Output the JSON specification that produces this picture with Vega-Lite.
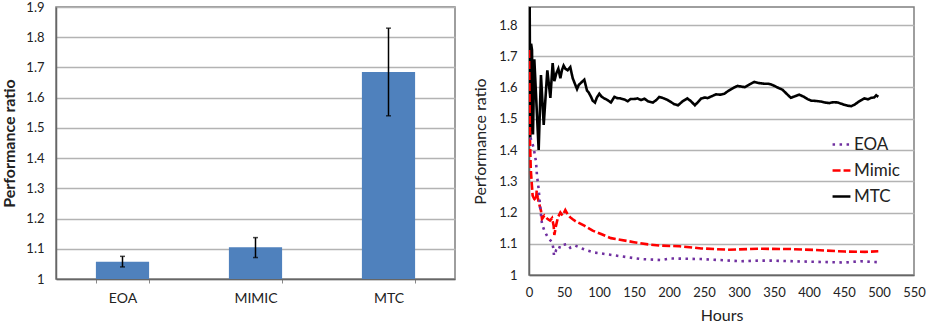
{
  "$schema": "https://vega.github.io/schema/vega-lite/v6.json",
  "background": "white",
  "padding": {"left": 1, "top": 0, "right": 5, "bottom": 5},
  "spacing": 16,
  "config": {
    "font": "Lato",
    "view": {"stroke": "#7f7f7f", "strokeWidth": 1.5},
    "axis": {"labelFont": "Lato", "titleFont": "Lato", "labelColor": "#222", "titleColor": "#222", "gridColor": "#b3b3b3", "gridWidth": 1.5, "labelOverlap": false}
  },
  "datasets": {
    "bars": [
      {"method": "EOA", "ratio": 1.057, "lo": 1.040, "hi": 1.075},
      {"method": "MIMIC", "ratio": 1.105, "lo": 1.071, "hi": 1.137},
      {"method": "MTC", "ratio": 1.685, "lo": 1.540, "hi": 1.830}
    ],
    "series": [
      {"Hours": 0, "v": 1.44, "series": "MTC"},
      {"Hours": 0.8, "v": 1.95, "series": "MTC"},
      {"Hours": 1.8, "v": 1.44, "series": "MTC"},
      {"Hours": 3, "v": 1.74, "series": "MTC"},
      {"Hours": 4.3, "v": 1.72, "series": "MTC"},
      {"Hours": 5.7, "v": 1.45, "series": "MTC"},
      {"Hours": 7.6, "v": 1.69, "series": "MTC"},
      {"Hours": 13.8, "v": 1.40, "series": "MTC"},
      {"Hours": 17.1, "v": 1.64, "series": "MTC"},
      {"Hours": 21, "v": 1.48, "series": "MTC"},
      {"Hours": 26.2, "v": 1.655, "series": "MTC"},
      {"Hours": 30.5, "v": 1.567, "series": "MTC"},
      {"Hours": 33.8, "v": 1.678, "series": "MTC"},
      {"Hours": 36.2, "v": 1.62, "series": "MTC"},
      {"Hours": 39, "v": 1.645, "series": "MTC"},
      {"Hours": 41.9, "v": 1.66, "series": "MTC"},
      {"Hours": 44.8, "v": 1.63, "series": "MTC"},
      {"Hours": 47, "v": 1.655, "series": "MTC"},
      {"Hours": 49.5, "v": 1.67, "series": "MTC"},
      {"Hours": 52, "v": 1.66, "series": "MTC"},
      {"Hours": 55.2, "v": 1.655, "series": "MTC"},
      {"Hours": 59, "v": 1.665, "series": "MTC"},
      {"Hours": 62.4, "v": 1.63, "series": "MTC"},
      {"Hours": 65, "v": 1.615, "series": "MTC"},
      {"Hours": 68.6, "v": 1.595, "series": "MTC"},
      {"Hours": 71, "v": 1.608, "series": "MTC"},
      {"Hours": 74.3, "v": 1.615, "series": "MTC"},
      {"Hours": 79, "v": 1.625, "series": "MTC"},
      {"Hours": 82.9, "v": 1.59, "series": "MTC"},
      {"Hours": 85, "v": 1.585, "series": "MTC"},
      {"Hours": 88.6, "v": 1.57, "series": "MTC"},
      {"Hours": 91, "v": 1.558, "series": "MTC"},
      {"Hours": 94.3, "v": 1.552, "series": "MTC"},
      {"Hours": 97, "v": 1.568, "series": "MTC"},
      {"Hours": 100.5, "v": 1.58, "series": "MTC"},
      {"Hours": 104, "v": 1.57, "series": "MTC"},
      {"Hours": 107.6, "v": 1.565, "series": "MTC"},
      {"Hours": 112, "v": 1.56, "series": "MTC"},
      {"Hours": 117, "v": 1.552, "series": "MTC"},
      {"Hours": 122, "v": 1.57, "series": "MTC"},
      {"Hours": 126, "v": 1.566, "series": "MTC"},
      {"Hours": 131, "v": 1.565, "series": "MTC"},
      {"Hours": 136, "v": 1.562, "series": "MTC"},
      {"Hours": 141, "v": 1.556, "series": "MTC"},
      {"Hours": 145, "v": 1.563, "series": "MTC"},
      {"Hours": 150, "v": 1.563, "series": "MTC"},
      {"Hours": 155, "v": 1.565, "series": "MTC"},
      {"Hours": 160, "v": 1.56, "series": "MTC"},
      {"Hours": 165, "v": 1.564, "series": "MTC"},
      {"Hours": 170, "v": 1.556, "series": "MTC"},
      {"Hours": 177, "v": 1.552, "series": "MTC"},
      {"Hours": 182, "v": 1.56, "series": "MTC"},
      {"Hours": 186, "v": 1.57, "series": "MTC"},
      {"Hours": 193, "v": 1.565, "series": "MTC"},
      {"Hours": 198, "v": 1.56, "series": "MTC"},
      {"Hours": 203, "v": 1.553, "series": "MTC"},
      {"Hours": 208, "v": 1.546, "series": "MTC"},
      {"Hours": 213, "v": 1.543, "series": "MTC"},
      {"Hours": 219, "v": 1.555, "series": "MTC"},
      {"Hours": 226, "v": 1.565, "series": "MTC"},
      {"Hours": 231, "v": 1.557, "series": "MTC"},
      {"Hours": 237, "v": 1.543, "series": "MTC"},
      {"Hours": 242, "v": 1.555, "series": "MTC"},
      {"Hours": 246, "v": 1.565, "series": "MTC"},
      {"Hours": 251, "v": 1.568, "series": "MTC"},
      {"Hours": 255, "v": 1.566, "series": "MTC"},
      {"Hours": 261, "v": 1.572, "series": "MTC"},
      {"Hours": 267, "v": 1.578, "series": "MTC"},
      {"Hours": 273, "v": 1.577, "series": "MTC"},
      {"Hours": 279, "v": 1.58, "series": "MTC"},
      {"Hours": 284, "v": 1.588, "series": "MTC"},
      {"Hours": 289, "v": 1.595, "series": "MTC"},
      {"Hours": 293, "v": 1.6, "series": "MTC"},
      {"Hours": 298, "v": 1.605, "series": "MTC"},
      {"Hours": 303, "v": 1.603, "series": "MTC"},
      {"Hours": 308, "v": 1.601, "series": "MTC"},
      {"Hours": 315, "v": 1.61, "series": "MTC"},
      {"Hours": 322, "v": 1.618, "series": "MTC"},
      {"Hours": 329, "v": 1.614, "series": "MTC"},
      {"Hours": 336, "v": 1.612, "series": "MTC"},
      {"Hours": 342, "v": 1.612, "series": "MTC"},
      {"Hours": 348, "v": 1.608, "series": "MTC"},
      {"Hours": 355, "v": 1.60, "series": "MTC"},
      {"Hours": 362, "v": 1.593, "series": "MTC"},
      {"Hours": 368, "v": 1.58, "series": "MTC"},
      {"Hours": 374, "v": 1.567, "series": "MTC"},
      {"Hours": 380, "v": 1.572, "series": "MTC"},
      {"Hours": 386, "v": 1.577, "series": "MTC"},
      {"Hours": 393, "v": 1.57, "series": "MTC"},
      {"Hours": 398, "v": 1.563, "series": "MTC"},
      {"Hours": 403, "v": 1.558, "series": "MTC"},
      {"Hours": 410, "v": 1.557, "series": "MTC"},
      {"Hours": 417, "v": 1.555, "series": "MTC"},
      {"Hours": 423, "v": 1.552, "series": "MTC"},
      {"Hours": 429, "v": 1.55, "series": "MTC"},
      {"Hours": 435, "v": 1.553, "series": "MTC"},
      {"Hours": 441, "v": 1.552, "series": "MTC"},
      {"Hours": 450, "v": 1.545, "series": "MTC"},
      {"Hours": 455, "v": 1.542, "series": "MTC"},
      {"Hours": 460, "v": 1.54, "series": "MTC"},
      {"Hours": 465, "v": 1.545, "series": "MTC"},
      {"Hours": 470, "v": 1.553, "series": "MTC"},
      {"Hours": 475, "v": 1.56, "series": "MTC"},
      {"Hours": 479, "v": 1.565, "series": "MTC"},
      {"Hours": 484, "v": 1.562, "series": "MTC"},
      {"Hours": 489, "v": 1.567, "series": "MTC"},
      {"Hours": 493, "v": 1.568, "series": "MTC"},
      {"Hours": 496, "v": 1.575, "series": "MTC"},
      {"Hours": 499, "v": 1.57, "series": "MTC"},

      {"Hours": 0, "v": 1.72, "series": "Mimic"},
      {"Hours": 1.4, "v": 1.435, "series": "Mimic"},
      {"Hours": 2.5, "v": 1.34, "series": "Mimic"},
      {"Hours": 3.8, "v": 1.297, "series": "Mimic"},
      {"Hours": 5.2, "v": 1.254, "series": "Mimic"},
      {"Hours": 7.6, "v": 1.243, "series": "Mimic"},
      {"Hours": 10, "v": 1.238, "series": "Mimic"},
      {"Hours": 11, "v": 1.27, "series": "Mimic"},
      {"Hours": 12.4, "v": 1.249, "series": "Mimic"},
      {"Hours": 14.8, "v": 1.225, "series": "Mimic"},
      {"Hours": 17.1, "v": 1.206, "series": "Mimic"},
      {"Hours": 18.6, "v": 1.179, "series": "Mimic"},
      {"Hours": 21.9, "v": 1.19, "series": "Mimic"},
      {"Hours": 26.7, "v": 1.179, "series": "Mimic"},
      {"Hours": 30, "v": 1.174, "series": "Mimic"},
      {"Hours": 32.9, "v": 1.182, "series": "Mimic"},
      {"Hours": 35.2, "v": 1.158, "series": "Mimic"},
      {"Hours": 36.2, "v": 1.128, "series": "Mimic"},
      {"Hours": 38.6, "v": 1.158, "series": "Mimic"},
      {"Hours": 41.4, "v": 1.185, "series": "Mimic"},
      {"Hours": 44.8, "v": 1.20, "series": "Mimic"},
      {"Hours": 48, "v": 1.19, "series": "Mimic"},
      {"Hours": 51.9, "v": 1.208, "series": "Mimic"},
      {"Hours": 55, "v": 1.195, "series": "Mimic"},
      {"Hours": 58.6, "v": 1.185, "series": "Mimic"},
      {"Hours": 62, "v": 1.179, "series": "Mimic"},
      {"Hours": 66.7, "v": 1.172, "series": "Mimic"},
      {"Hours": 79, "v": 1.158, "series": "Mimic"},
      {"Hours": 91, "v": 1.142, "series": "Mimic"},
      {"Hours": 103, "v": 1.131, "series": "Mimic"},
      {"Hours": 117, "v": 1.118, "series": "Mimic"},
      {"Hours": 130, "v": 1.113, "series": "Mimic"},
      {"Hours": 150, "v": 1.105, "series": "Mimic"},
      {"Hours": 170, "v": 1.098, "series": "Mimic"},
      {"Hours": 189, "v": 1.094, "series": "Mimic"},
      {"Hours": 215, "v": 1.092, "series": "Mimic"},
      {"Hours": 246, "v": 1.085, "series": "Mimic"},
      {"Hours": 284, "v": 1.081, "series": "Mimic"},
      {"Hours": 327, "v": 1.084, "series": "Mimic"},
      {"Hours": 374, "v": 1.083, "series": "Mimic"},
      {"Hours": 410, "v": 1.08, "series": "Mimic"},
      {"Hours": 451, "v": 1.075, "series": "Mimic"},
      {"Hours": 480, "v": 1.074, "series": "Mimic"},
      {"Hours": 499, "v": 1.076, "series": "Mimic"},

      {"Hours": 2, "v": 1.44, "series": "EOA"},
      {"Hours": 4.3, "v": 1.425, "series": "EOA"},
      {"Hours": 6.7, "v": 1.406, "series": "EOA"},
      {"Hours": 10, "v": 1.363, "series": "EOA"},
      {"Hours": 11.4, "v": 1.318, "series": "EOA"},
      {"Hours": 13.8, "v": 1.275, "series": "EOA"},
      {"Hours": 16.2, "v": 1.211, "series": "EOA"},
      {"Hours": 18.6, "v": 1.163, "series": "EOA"},
      {"Hours": 21.9, "v": 1.142, "series": "EOA"},
      {"Hours": 26.7, "v": 1.121, "series": "EOA"},
      {"Hours": 32.9, "v": 1.105, "series": "EOA"},
      {"Hours": 34.8, "v": 1.085, "series": "EOA"},
      {"Hours": 35.7, "v": 1.062, "series": "EOA"},
      {"Hours": 38.6, "v": 1.078, "series": "EOA"},
      {"Hours": 41.4, "v": 1.075, "series": "EOA"},
      {"Hours": 44.8, "v": 1.096, "series": "EOA"},
      {"Hours": 49.5, "v": 1.097, "series": "EOA"},
      {"Hours": 54.8, "v": 1.099, "series": "EOA"},
      {"Hours": 59, "v": 1.087, "series": "EOA"},
      {"Hours": 66.2, "v": 1.094, "series": "EOA"},
      {"Hours": 75.2, "v": 1.085, "series": "EOA"},
      {"Hours": 83.8, "v": 1.078, "series": "EOA"},
      {"Hours": 93.3, "v": 1.072, "series": "EOA"},
      {"Hours": 103, "v": 1.069, "series": "EOA"},
      {"Hours": 131, "v": 1.06, "series": "EOA"},
      {"Hours": 160, "v": 1.051, "series": "EOA"},
      {"Hours": 189, "v": 1.048, "series": "EOA"},
      {"Hours": 203, "v": 1.053, "series": "EOA"},
      {"Hours": 246, "v": 1.051, "series": "EOA"},
      {"Hours": 280, "v": 1.047, "series": "EOA"},
      {"Hours": 303, "v": 1.044, "series": "EOA"},
      {"Hours": 327, "v": 1.046, "series": "EOA"},
      {"Hours": 346, "v": 1.046, "series": "EOA"},
      {"Hours": 393, "v": 1.043, "series": "EOA"},
      {"Hours": 451, "v": 1.04, "series": "EOA"},
      {"Hours": 474, "v": 1.044, "series": "EOA"},
      {"Hours": 499, "v": 1.041, "series": "EOA"}
    ]
  },
  "hconcat": [
    {
      "width": 399,
      "height": 272,
      "data": {"name": "bars"},
      "encoding": {
        "x": {
          "field": "method", "type": "nominal", "sort": null,
          "scale": {"paddingInner": 0.6, "paddingOuter": 0.3},
          "axis": {"title": null, "labelAngle": 0, "labelFontSize": 14, "labelPadding": 8, "tickBand": "extent", "tickSize": 4, "tickColor": "#888", "domainColor": "#666", "domainWidth": 1.5, "grid": false}
        }
      },
      "layer": [
        {
          "mark": {"type": "bar", "color": "#4F81BD"},
          "encoding": {
            "y": {
              "field": "ratio", "type": "quantitative",
              "scale": {"domain": [1, 1.9], "zero": false, "nice": false},
              "axis": {"title": "Performance ratio", "titleFontSize": 16, "titleFontWeight": "bold", "titlePadding": 8, "labelFontSize": 13, "labelPadding": 12, "ticks": false, "domainColor": "#666", "domainWidth": 1.5, "values": [1, 1.1, 1.2, 1.3, 1.4, 1.5, 1.6, 1.7, 1.8, 1.9], "format": "~g", "labelOverlap": false}
            },
            "y2": {"datum": 1}
          }
        },
        {
          "mark": {"type": "rule", "color": "black", "strokeWidth": 1.5},
          "encoding": {
            "y": {"field": "lo", "type": "quantitative",
              "axis": {"title": "Performance ratio", "titleFontSize": 16, "titleFontWeight": "bold", "titlePadding": 8, "labelFontSize": 13, "labelPadding": 12, "ticks": false, "domainColor": "#666", "domainWidth": 1.5, "values": [1, 1.1, 1.2, 1.3, 1.4, 1.5, 1.6, 1.7, 1.8, 1.9], "format": "~g", "labelOverlap": false}},
            "y2": {"field": "hi"}
          }
        },
        {
          "mark": {"type": "tick", "color": "black", "size": 5, "thickness": 1.5},
          "encoding": {"y": {"field": "lo", "type": "quantitative",
            "axis": {"title": "Performance ratio", "titleFontSize": 16, "titleFontWeight": "bold", "titlePadding": 8, "labelFontSize": 13, "labelPadding": 12, "ticks": false, "domainColor": "#666", "domainWidth": 1.5, "values": [1, 1.1, 1.2, 1.3, 1.4, 1.5, 1.6, 1.7, 1.8, 1.9], "format": "~g", "labelOverlap": false}}}
        },
        {
          "mark": {"type": "tick", "color": "black", "size": 5, "thickness": 1.5},
          "encoding": {"y": {"field": "hi", "type": "quantitative",
            "axis": {"title": "Performance ratio", "titleFontSize": 16, "titleFontWeight": "bold", "titlePadding": 8, "labelFontSize": 13, "labelPadding": 12, "ticks": false, "domainColor": "#666", "domainWidth": 1.5, "values": [1, 1.1, 1.2, 1.3, 1.4, 1.5, 1.6, 1.7, 1.8, 1.9], "format": "~g", "labelOverlap": false}}}
        }
      ]
    },
    {
      "width": 385,
      "height": 268,
      "data": {"name": "series"},
      "mark": {"type": "line", "clip": true, "strokeWidth": 2.6},
      "encoding": {
        "x": {
          "field": "Hours", "type": "quantitative",
          "scale": {"domain": [0, 550], "nice": false},
          "axis": {"title": "Hours", "titleFontSize": 16, "titleFontWeight": "normal", "titlePadding": 8, "labelFontSize": 13, "labelPadding": 11, "ticks": false, "grid": false, "domainColor": "#666", "domainWidth": 1.5, "values": [0, 50, 100, 150, 200, 250, 300, 350, 400, 450, 500, 550], "labelFlush": false}
        },
        "y": {
          "field": "v", "type": "quantitative",
          "scale": {"domain": [1, 1.8576], "zero": false, "nice": false},
          "axis": {"title": "Performance ratio", "titleFontSize": 16, "titleFontWeight": "normal", "titlePadding": 10, "labelFontSize": 13, "labelPadding": 12, "ticks": false, "domainColor": "#666", "domainWidth": 1.5, "values": [1, 1.1, 1.2, 1.3, 1.4, 1.5, 1.6, 1.7, 1.8], "format": "~g"}
        },
        "color": {
          "field": "series", "type": "nominal",
          "scale": {"domain": ["EOA", "Mimic", "MTC"], "range": ["#7030A0", "#FF0000", "#000000"]},
          "legend": {"title": null, "orient": "none", "legendX": 775, "legendY": 127, "labelFontSize": 17, "labelColor": "#222", "symbolType": "stroke", "symbolSize": 320, "symbolStrokeWidth": 2.6, "rowPadding": 7, "labelOffset": 2}
        },
        "strokeDash": {
          "field": "series", "type": "nominal",
          "scale": {"domain": ["EOA", "Mimic", "MTC"], "range": [[2.5, 4.5], [8, 3], [1, 0]]},
          "legend": {"title": null, "orient": "none", "legendX": 775, "legendY": 127, "labelFontSize": 17, "labelColor": "#222", "symbolType": "stroke", "symbolSize": 320, "symbolStrokeWidth": 2.6, "rowPadding": 7, "labelOffset": 2}
        }
      }
    }
  ]
}
